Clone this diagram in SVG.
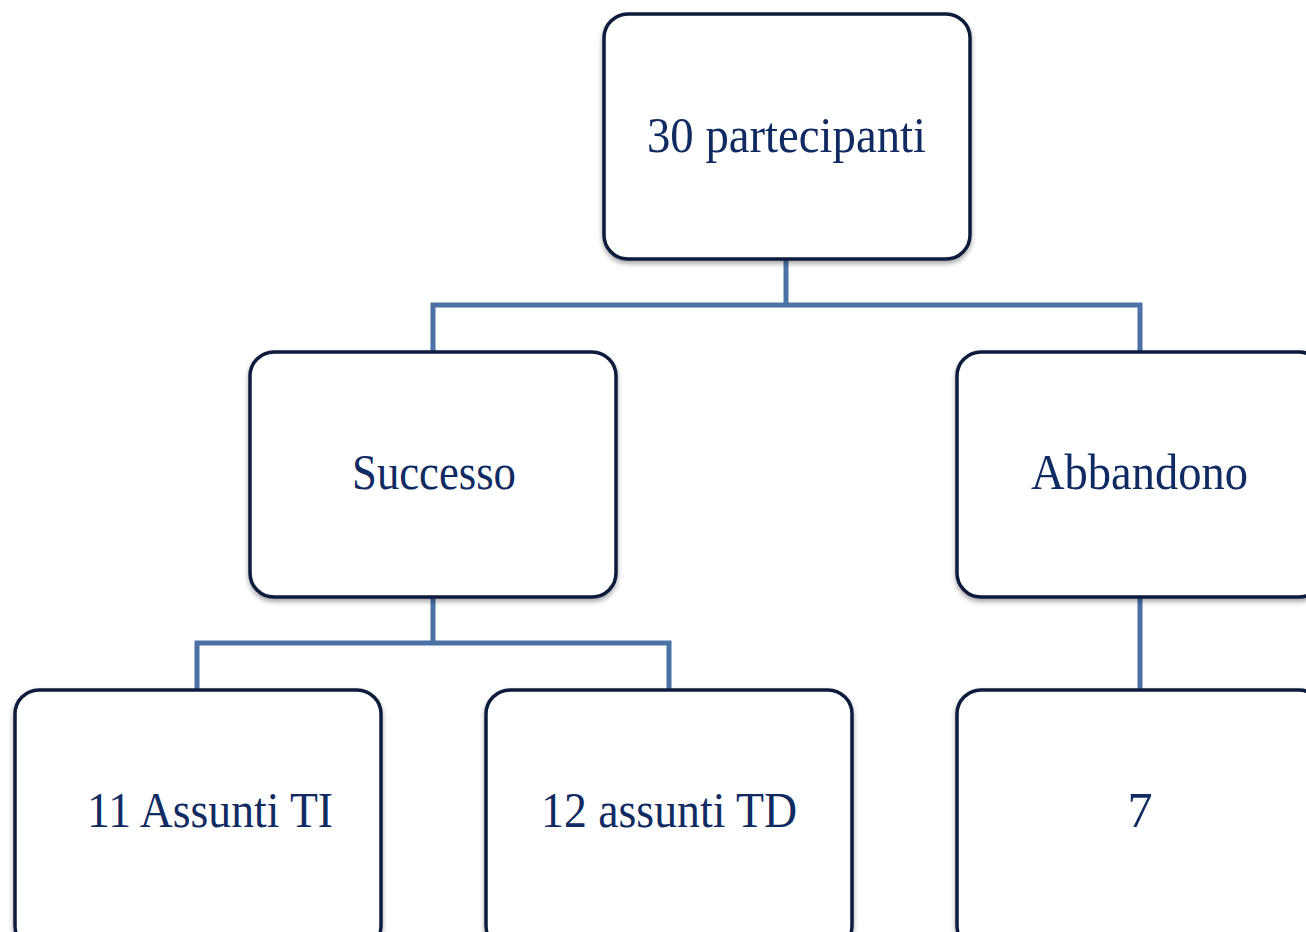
<svg xmlns="http://www.w3.org/2000/svg" width="1306" height="932" viewBox="0 0 1306 932">
<defs>
<filter id="sh" x="-10%" y="-10%" width="120%" height="120%">
<feDropShadow dx="0" dy="3" stdDeviation="2.5" flood-color="#000" flood-opacity="0.35"/>
</filter>
<style>
.box{fill:#fff;stroke:#0b1b3d;stroke-width:3.5;filter:url(#sh)}
.lbl{font-family:"Liberation Serif","DejaVu Serif",serif;font-size:50px;fill:#102a62;text-anchor:middle}
.con{fill:none;stroke:#4a72a6;stroke-width:5;stroke-linejoin:miter}
</style>
</defs>
<rect width="1306" height="932" fill="#fff"/>
<g id="connectors">
<path class="con" d="M786 259 V305 M433 351 V305 H1140 V351"/>
<path class="con" d="M433 597 V643 M197 689 V643 H669 V689"/>
<path class="con" d="M1140 597 V689"/>
</g>
<g id="n-root">
<rect class="box" x="604" y="14" width="366" height="245" rx="24"/>
<text class="lbl" x="786.5" y="152" textLength="279" lengthAdjust="spacingAndGlyphs">30 partecipanti</text>
</g>
<g id="n-successo">
<rect class="box" x="250" y="352" width="366" height="245" rx="24"/>
<text class="lbl" x="434" y="489" textLength="164" lengthAdjust="spacingAndGlyphs">Successo</text>
</g>
<g id="n-abbandono">
<rect class="box" x="957" y="352" width="366" height="245" rx="24"/>
<text class="lbl" x="1139.5" y="489" textLength="217" lengthAdjust="spacingAndGlyphs">Abbandono</text>
</g>
<g id="n-ti">
<rect class="box" x="15" y="690" width="366" height="260" rx="24"/>
<text class="lbl" x="210" y="827" textLength="246" lengthAdjust="spacingAndGlyphs">11 Assunti TI</text>
</g>
<g id="n-td">
<rect class="box" x="486" y="690" width="366" height="260" rx="24"/>
<text class="lbl" x="669" y="827" textLength="256" lengthAdjust="spacingAndGlyphs">12 assunti TD</text>
</g>
<g id="n-7">
<rect class="box" x="957" y="690" width="366" height="260" rx="24"/>
<text class="lbl" x="1140" y="827">7</text>
</g>
</svg>
